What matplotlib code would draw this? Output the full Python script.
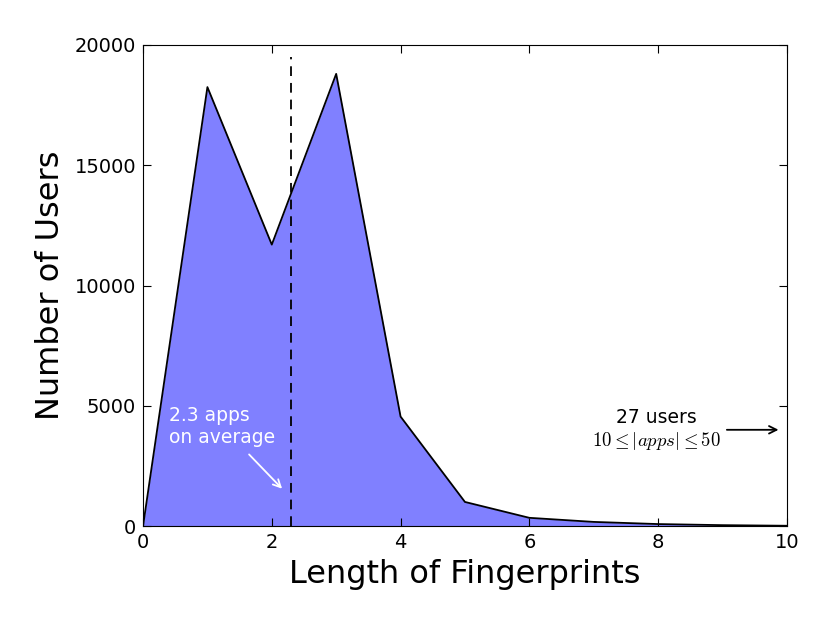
import matplotlib
matplotlib.use("Agg")
import matplotlib.pyplot as plt

lengths = [0, 1, 2, 3, 4, 5, 6, 7, 8, 9, 10]
users = [0, 18250, 11700, 18800, 4550, 1000, 340, 170, 80, 35, 10]
mean_len = 2.3

plt.rcParams['mathtext.fontset'] = 'cm'
plt.rcParams['xtick.direction'] = 'in'
plt.rcParams['ytick.direction'] = 'in'
plt.rcParams['xtick.top'] = True
plt.rcParams['ytick.right'] = True
plt.rcParams['xtick.major.size'] = 6
plt.rcParams['ytick.major.size'] = 6
plt.rcParams['lines.scale_dashes'] = False

fig = plt.figure(figsize=(8.34, 6.25), dpi=100)
ax = fig.add_axes([0.1715, 0.1584, 0.772, 0.7696])

ax.fill_between(lengths, users, 0, color='#8080ff', linewidth=0)
ax.plot(lengths, users, color='black', linewidth=1.3)
ax.plot([mean_len, mean_len], [0, 19500], color='black', linestyle=(0, (7, 5)), linewidth=1.3)

ax.set_xlim(0, 10)
ax.set_ylim(0, 20000)
ax.set_xticks([0, 2, 4, 6, 8, 10])
ax.set_yticks([0, 5000, 10000, 15000, 20000])
ax.tick_params(labelsize=14, pad=5)
ax.set_xlabel('Length of Fingerprints', fontsize=23, labelpad=5)
ax.set_ylabel('Number of Users', fontsize=23, labelpad=6)

ax.annotate('2.3 apps\non average', xy=(2.16, 1550), xytext=(0.4, 3300),
            color='white', fontsize=13.5, ha='left', va='bottom',
            arrowprops=dict(arrowstyle='->', color='white', lw=1.3, shrinkA=5, shrinkB=0))

ax.annotate('27 users\n$10 \\leq |apps| \\leq 50$', xy=(9.87, 4000), xytext=(7.98, 4000),
            color='black', fontsize=13.5, ha='center', va='center', multialignment='center',
            arrowprops=dict(arrowstyle='->', color='black', lw=1.3, shrinkA=2, shrinkB=0))

fig.savefig('out.png', dpi=100)
